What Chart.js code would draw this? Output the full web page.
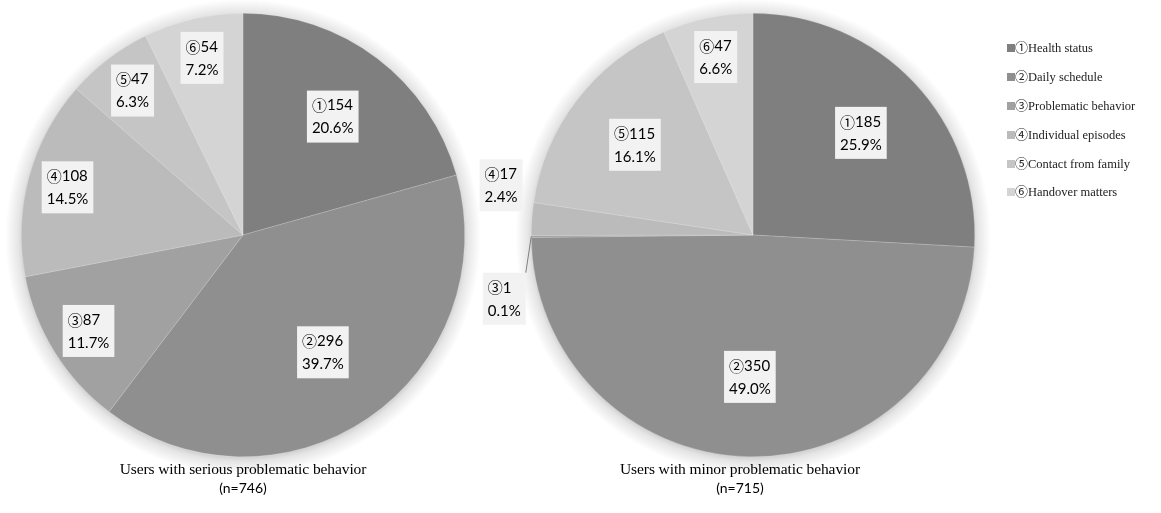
<!DOCTYPE html>
<html>
<head>
<meta charset="utf-8">
<script src="https://cdn.jsdelivr.net/npm/chart.js@4/dist/chart.umd.min.js"></script>
<style>
  body { margin: 0; background: #fff; }
  #wrap { position: relative; width: 1161px; height: 513px; overflow: hidden; }
  canvas.pie { position: absolute; left: 0; top: 0; }
  .caption { position: absolute; width: 420px; text-align: center; color: #000; }
  .caption .t { font: 15.5px "Liberation Serif", serif; letter-spacing: -0.1px; line-height: 19px; }
  .caption .n { font: 14px Lato, "Noto Sans", sans-serif; line-height: 19px; }
  #legend { position: absolute; left: 1007px; top: 34px; font: 12.5px "Liberation Serif", serif; color: #222; }
  #legend div { height: 28.8px; display: flex; align-items: center; white-space: nowrap; }
  #legend div > * { height: 16px; line-height: 16px; }
  #legend span.box { display: inline-block; width: 8px; height: 8px; }
  #legend span.mk { font-family: "Noto Sans CJK JP", sans-serif; font-size: 13px; position: relative; top: -1px; }
</style>
</head>
<body>
<div id="wrap">
  <canvas id="seriousChart" class="pie"></canvas>
  <canvas id="minorChart" class="pie"></canvas>
  <div class="caption" style="left:33px; top:459px;"><div class="t" id="cap1"></div><div class="n" id="n1"></div></div>
  <div class="caption" style="left:530px; top:459px;"><div class="t" id="cap2"></div><div class="n" id="n2"></div></div>
  <div id="legend"></div>
</div>
<script>
const categories = ['Health status', 'Daily schedule', 'Problematic behavior', 'Individual episodes', 'Contact from family', 'Handover matters'];
const markers = ['①', '②', '③', '④', '⑤', '⑥'];
const seriousValues = [154, 296, 87, 108, 47, 54];
const minorValues = [185, 350, 1, 17, 115, 47];
const captions = ['Users with serious problematic behavior', 'Users with minor problematic behavior'];
const sampleSizes = [746, 715];

const sliceColors = ['#7f7f7f', '#8f8f8f', '#a1a1a1', '#bbbbbb', '#c5c5c5', '#d4d4d4'];

// soft shadow ring round the pie
const pieShadow = {
    id: 'pieShadow',
    beforeDatasetsDraw(chart) {
        const arc = chart.getDatasetMeta(0).data[0];
        if (!arc) return;
        const { ctx } = chart;
        const r = arc.outerRadius;
        const cx = arc.x, cy = arc.y + 2;
        const g = ctx.createRadialGradient(cx, cy, r - 4, cx, cy, r + 16);
        g.addColorStop(0, 'rgba(0,0,0,0.22)');
        g.addColorStop(0.35, 'rgba(0,0,0,0.10)');
        g.addColorStop(1, 'rgba(0,0,0,0)');
        ctx.save();
        ctx.fillStyle = g;
        ctx.beginPath();
        ctx.arc(cx, cy, r + 16, 0, Math.PI * 2);
        ctx.fill();
        ctx.restore();
    }
};

// labels in light boxes, like the Excel data callouts
const markFont = '15px "Noto Sans CJK JP", sans-serif';
const numFont = '15px Lato, sans-serif';
const boxLabels = {
    id: 'boxLabels',
    afterDatasetsDraw(chart, args, opts) {
        const { ctx } = chart;
        const values = chart.data.datasets[0].data;
        const total = values.reduce((a, b) => a + b, 0);
        const meta = chart.getDatasetMeta(0);
        const outside = opts.outside || {};
        ctx.save();
        ctx.textBaseline = 'middle';
        ctx.textAlign = 'left';
        meta.data.forEach((arc, i) => {
            const share = values[i] / total;
            const num = String(values[i]);
            const line2 = (share * 100).toFixed(1) + '%';
            ctx.font = markFont;
            const mw = ctx.measureText(markers[i]).width;
            ctx.font = numFont;
            const w1 = mw + ctx.measureText(num).width;
            const w = Math.max(w1, ctx.measureText(line2).width) + 10;
            const h = 52;
            const mid = (arc.startAngle + arc.endAngle) / 2;
            let cx, cy;
            const isOut = outside[i] !== undefined;
            if (isOut) {
                const a = mid + outside[i] * Math.PI / 180;
                cx = arc.x + Math.cos(a) * (arc.outerRadius + 35);
                cy = arc.y + Math.sin(a) * (arc.outerRadius + 35);
            } else {
                const f = share > 0.35 ? 0.64 : (share > 0.15 ? 0.67 : 0.82);
                cx = arc.x + Math.cos(mid) * arc.outerRadius * f;
                cy = arc.y + Math.sin(mid) * arc.outerRadius * f;
            }
            const bx = cx - w / 2, by = cy - h / 2;
            if (isOut) {
                const px = arc.x + Math.cos(mid) * arc.outerRadius;
                const py = arc.y + Math.sin(mid) * arc.outerRadius;
                const nx = Math.min(Math.max(px, bx), bx + w);
                const ny = Math.min(Math.max(py, by), by + h);
                if (Math.hypot(px - nx, py - ny) > 20) {
                    ctx.strokeStyle = '#7f7f7f';
                    ctx.lineWidth = 1;
                    ctx.beginPath();
                    ctx.moveTo(px, py);
                    ctx.lineTo(nx, ny);
                    ctx.stroke();
                }
            }
            ctx.fillStyle = '#f2f2f2';
            ctx.fillRect(bx, by, w, h);
            ctx.fillStyle = '#000';
            ctx.font = markFont;
            ctx.fillText(markers[i], bx + 5, by + 15);
            ctx.font = numFont;
            ctx.fillText(num, bx + 5 + mw, by + 15);
            ctx.fillText(line2, bx + 5, by + 38);
        });
        ctx.restore();
    }
};

function makePie(id, values, center, outside) {
    const W = 1161, H = 513, R = 222;
    return new Chart(document.getElementById(id), {
        type: 'pie',
        data: {
            labels: categories.map((c, i) => markers[i] + c),
            datasets: [{
                data: values,
                backgroundColor: sliceColors,
                borderColor: 'rgba(255,255,255,0.35)',
                borderWidth: 0.5
            }]
        },
        options: {
            responsive: false,
            animation: false,
            events: [],
            layout: {
                padding: {
                    left: center[0] - R,
                    right: W - center[0] - R,
                    top: center[1] - R,
                    bottom: H - center[1] - R
                }
            },
            plugins: {
                legend: { display: false },
                tooltip: { enabled: false },
                boxLabels: { outside }
            }
        },
        plugins: [pieShadow, boxLabels]
    });
}

['seriousChart', 'minorChart'].forEach(id => {
    const c = document.getElementById(id);
    c.width = 1161; c.height = 513;
});

makePie('seriousChart', seriousValues, [243, 235], {});
makePie('minorChart', minorValues, [753, 235], { 2: -14, 3: 7 });

document.getElementById('cap1').textContent = captions[0];
document.getElementById('cap2').textContent = captions[1];
document.getElementById('n1').textContent = '(n=' + sampleSizes[0] + ')';
document.getElementById('n2').textContent = '(n=' + sampleSizes[1] + ')';

const legend = document.getElementById('legend');
categories.forEach((c, i) => {
    const row = document.createElement('div');
    const box = document.createElement('span');
    box.className = 'box';
    box.style.background = sliceColors[i];
    const mk = document.createElement('span');
    mk.className = 'mk';
    mk.textContent = markers[i];
    const txt = document.createElement('span');
    txt.textContent = c;
    row.appendChild(box);
    row.appendChild(mk);
    row.appendChild(txt);
    legend.appendChild(row);
});
</script>
</body>
</html>
